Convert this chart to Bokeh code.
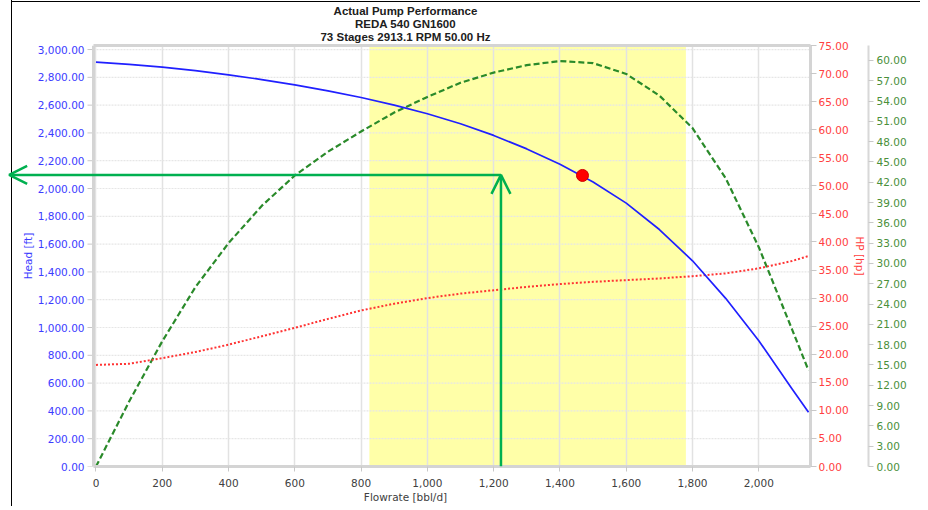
from bokeh.plotting import figure
from bokeh.models import (Range1d, LinearAxis, FixedTicker, NumeralTickFormatter,
                          BoxAnnotation, Arrow, OpenHead, Span)
from bokeh.embed import file_html
from bokeh.resources import INLINE

# ---------------- data ----------------
flow = [0, 100, 200, 300, 400, 500, 600, 700, 800, 900, 1000, 1100,
        1200, 1300, 1400, 1500, 1600, 1700, 1800, 1900, 2000, 2100, 2150]
head_ft = [2910, 2893, 2873, 2848, 2818, 2784, 2746, 2703, 2655, 2600, 2538, 2466,
           2382, 2285, 2175, 2047, 1895, 1705, 1480, 1210, 905, 560, 390]
power_hp = [18.1, 18.3, 19.3, 20.4, 21.7, 23.2, 24.7, 26.3, 27.8, 29.0, 30.0, 30.8,
            31.4, 32.0, 32.5, 32.9, 33.2, 33.5, 33.9, 34.4, 35.3, 36.6, 37.5]
efficiency = [0, 9.6, 18.5, 26.5, 33.0, 38.5, 43.0, 46.5, 49.5, 52.3, 54.6, 56.7,
              58.2, 59.3, 59.9, 59.6, 58.0, 54.8, 50.0, 42.6, 32.4, 20.3, 14.2]

band_start, band_end = 825, 1780          # recommended operating range
op_flow, op_head = 1468, 2094             # operating point
target_flow, target_head = 1222, 2098     # arrows
arrow_left_flow = -262

title_lines = ["Actual Pump Performance", "REDA 540 GN1600", "73 Stages 2913.1 RPM 50.00 Hz"]
flow_ticks = list(range(0, 2001, 200))
head_ticks = list(range(0, 3001, 200))
hp_ticks = list(range(0, 76, 5))
eff_ticks = list(range(0, 61, 3))

# ---------------- styling / layout ----------------
BLUE = "#3c3cff"
RED = "#ff4040"
GREEN_LBL = "#4a8f3a"
ARROW_G = "#00b050"
TICK_G = "#c8c8c8"
EDGE = "#d4d4d4"
FONT = "DejaVu Sans"

W, H = 920, 506
AREA_LEFT = 93            # left edge of the plotting area (px)
BR, BT, BB = 110, 45, 40
X0, X1 = -7.5, 2156       # flow at plotting-area left / right edges
Y0, Y1 = 0, 3029
AREA_W = W - BR - AREA_LEFT
SX = AREA_W / (X1 - X0)   # px per flow unit
XL = X0 - AREA_LEFT / SX  # frame starts at the canvas' left edge


def px_to_x(px):
    return X0 + (px - AREA_LEFT) / SX


p = figure(width=W, height=H, x_range=Range1d(XL, X1), y_range=Range1d(Y0, Y1),
           output_backend="svg", toolbar_location=None, title=None,
           min_border_left=0, min_border_right=BR, min_border_top=BT, min_border_bottom=BB)
p.extra_y_ranges = {"hp": Range1d(0, 75), "eff": Range1d(0, 62.2)}
p.background_fill_alpha = 0
p.border_fill_alpha = 0
p.outline_line_color = None
# window frame lines of the captured picture (left and top edges)
p.styles = {
    "background-color": "white",
    "background-image": "linear-gradient(#000, #000), linear-gradient(#000, #000)",
    "background-size": "1px 100%, 100% 1px",
    "background-position": "11px 0px, 11px 1px",
    "background-repeat": "no-repeat",
}


def style_axis(ax, color):
    ax.major_label_text_color = color
    ax.major_label_text_font = FONT
    ax.major_label_text_font_size = "10.5px"
    ax.axis_label_text_color = color
    ax.axis_label_text_font = FONT
    ax.axis_label_text_font_style = "normal"
    ax.axis_label_text_font_size = "10.5px"
    ax.major_tick_line_color = TICK_G
    ax.major_tick_out = 6
    ax.major_tick_in = 0
    ax.minor_tick_line_color = None
    ax.axis_line_color = None


# left axis (head) – labels drawn to the right of the frame's edge
ay = p.yaxis[0]
ay.ticker = FixedTicker(ticks=head_ticks)
ay.formatter = NumeralTickFormatter(format="0,0.00")
ay.axis_label = "Head [ft]"
style_axis(ay, BLUE)
ay.major_tick_out = 0
ay.major_label_standoff = -(AREA_LEFT - 9)
ay.axis_label_standoff = 1

# bottom axis (flow)
ax = p.xaxis[0]
ax.ticker = FixedTicker(ticks=flow_ticks)
ax.formatter = NumeralTickFormatter(format="0,0")
ax.bounds = (X0, X1)
ax.axis_label = "Flowrate [bbl/d]"
style_axis(ax, "#404040")
ax.axis_line_color = EDGE
ax.axis_line_width = 3
ax.major_tick_out = 5
ax.major_label_standoff = 7
ax.axis_label_standoff = 1

# title as a centred, multi-line label above the plotting area
title_axis = LinearAxis(ticker=FixedTicker(ticks=[]), bounds=(X0, X1),
                        axis_label="\n".join(title_lines),
                        axis_line_color=EDGE, axis_line_width=3,
                        major_tick_out=0, major_tick_in=0, minor_tick_out=0,
                        major_tick_line_color=None, minor_tick_line_color=None,
                        major_label_standoff=0, axis_label_standoff=3,
                        axis_label_text_font="Liberation Sans",
                        axis_label_text_font_style="bold",
                        axis_label_text_font_size="11.5px",
                        axis_label_text_line_height=1.05,
                        axis_label_text_color="#202020")
p.add_layout(title_axis, "above")

# right axis (HP)
hp_axis = LinearAxis(y_range_name="hp", ticker=FixedTicker(ticks=hp_ticks),
                     formatter=NumeralTickFormatter(format="0,0.00"), axis_label="HP [hp]")
style_axis(hp_axis, RED)
hp_axis.axis_line_color = EDGE
hp_axis.axis_line_width = 3
hp_axis.major_label_standoff = 2
hp_axis.axis_label_standoff = 2
p.add_layout(hp_axis, "right")

# spacer between the two right axes
spacer = LinearAxis(y_range_name="hp", ticker=FixedTicker(ticks=[]), axis_line_color=None,
                    major_tick_line_color=None, minor_tick_line_color=None,
                    major_tick_out=19, major_tick_in=0, minor_tick_out=0, major_label_standoff=0)
p.add_layout(spacer, "right")

# far right axis (efficiency)
eff_axis = LinearAxis(y_range_name="eff", ticker=FixedTicker(ticks=eff_ticks),
                      formatter=NumeralTickFormatter(format="0,0.00"))
style_axis(eff_axis, GREEN_LBL)
eff_axis.axis_line_color = "#d8d8d8"
eff_axis.axis_line_width = 2
eff_axis.major_tick_out = 5
eff_axis.major_label_standoff = 3
p.add_layout(eff_axis, "right")

# grids
p.xgrid.grid_line_color = "#e2e2e2"
p.xgrid.grid_line_width = 1.5
p.ygrid.visible = False
n = len(head_ticks)
p.segment(x0=[X0] * n, x1=[X1] * n, y0=head_ticks, y1=head_ticks,
          line_color="#e6e6e6", line_width=1.2, line_dash="2 1")
# left tick marks of the head axis
p.segment(x0=[px_to_x(AREA_LEFT - 6)] * n, x1=[X0] * n, y0=head_ticks, y1=head_ticks,
          line_color=TICK_G, line_width=1)

# operating range band
p.add_layout(BoxAnnotation(left=band_start, right=band_end, fill_color="#ffffa8",
                           fill_alpha=1, line_color=None, level="image"))

# curves
p.line(flow, efficiency, y_range_name="eff", line_color="#2a8a2a", line_width=2.2,
       line_dash="6 3")
p.line(flow, power_hp, y_range_name="hp", line_color="#ff3333", line_width=2,
       line_dash="2 2")
p.line(flow, head_ft, line_color="#2020ff", line_width=1.7)
p.scatter([op_flow], [op_head], size=12, fill_color="#ff0000", line_color="#d00000")

# left edge of the plotting area
p.add_layout(Span(location=X0, dimension="height", line_color=EDGE, line_width=3))

# arrows
p.add_layout(Arrow(end=OpenHead(size=19, line_color=ARROW_G, line_width=2.5),
                   x_start=target_flow, y_start=0, x_end=target_flow, y_end=target_head,
                   line_color=ARROW_G, line_width=2.5))
p.add_layout(Arrow(end=OpenHead(size=18, line_color=ARROW_G, line_width=2.5),
                   x_start=target_flow, y_start=target_head, x_end=arrow_left_flow,
                   y_end=target_head, line_color=ARROW_G, line_width=2.5))

open("out.html", "w").write(file_html(p, INLINE))
